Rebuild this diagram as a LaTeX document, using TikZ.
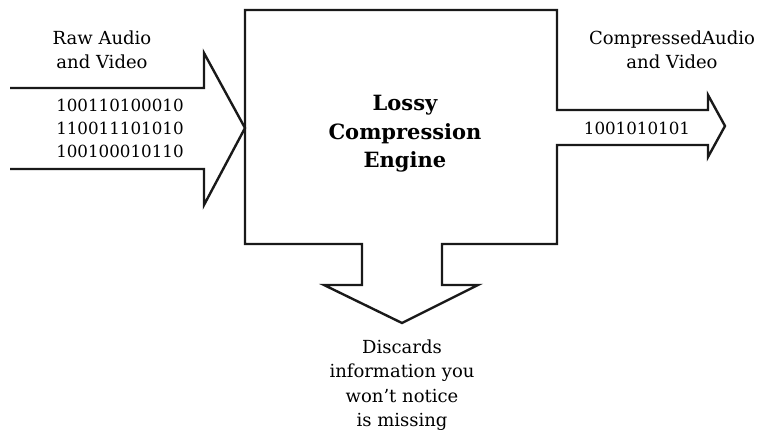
\documentclass[tikz,border=0pt]{standalone}
\usepackage{fontspec}
\setmainfont{DejaVu Serif}
\tikzset{
  outline/.style={draw=black!90, line width=2.4pt, line join=miter},
  lbl/.style={align=center, inner sep=0pt, font=\fontsize{18}{24.5}\selectfont},
  bits/.style={align=left, inner sep=0pt, font=\fontsize{16.7}{23}\selectfont},
  title/.style={align=center, inner sep=0pt, font=\fontsize{21}{28.5}\selectfont\bfseries}
}
\begin{document}
\begin{tikzpicture}[x=1pt,y=-1pt]
\useasboundingbox (0,0) rectangle (765,430);
% left input arrow
\draw[outline] (10,88) -- (204,88) -- (204,53) -- (245,128) -- (204,205) -- (204,169) -- (10,169);
% engine box with output arrows
\draw[outline] (245,10) -- (557,10) -- (557,110) -- (708,110) -- (708,95) -- (725,126)
  -- (708,157) -- (708,145) -- (557,145) -- (557,244) -- (442,244) -- (442,285)
  -- (478,285) -- (402,323) -- (324,285) -- (362,285) -- (362,244) -- (245,244) -- cycle;
\node[lbl] (raw) at (102,50) {Raw Audio\\and Video};
\node[bits] (inbits) at (120,128) {100110100010\\110011101010\\100100010110};
\node[title] (engine) at (405,134) {Lossy\\Compression\\Engine};
\node[lbl] (comp) at (672,50) {CompressedAudio\\and Video};
\node[bits] (outbits) at (637,128) {1001010101};
\node[lbl] (disc) at (402,385) {Discards\\information you\\won’t notice\\is missing};
\end{tikzpicture}
\end{document}
